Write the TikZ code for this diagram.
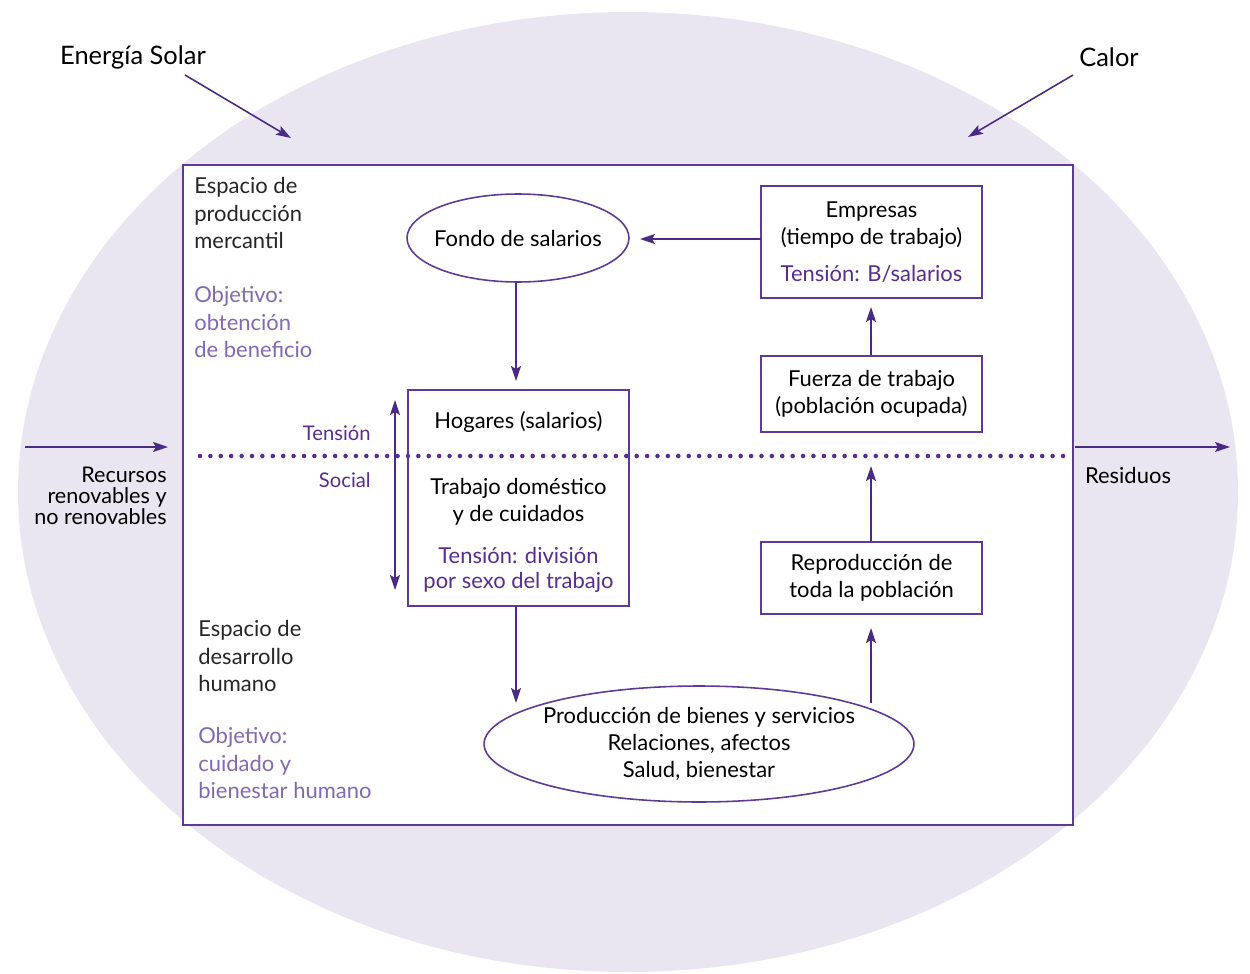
\documentclass[tikz,border=0pt]{standalone}
\usepackage{fontspec}
\setmainfont{Lato}
\usetikzlibrary{positioning,shapes.geometric,arrows.meta}

\definecolor{fondo}{HTML}{E9E6F2}
\definecolor{marco}{HTML}{5E3A94}
\definecolor{flecha}{HTML}{4B2A85}
\definecolor{tensioncol}{HTML}{5B2C8F}
\definecolor{objetivo}{HTML}{8468B4}

\tikzset{
  punta/.tip = {Stealth[length = 0.3cm, width = 0.2cm, inset = 0.06cm]},
  caja/.style = {draw = marco, rectangle, line width = 0.9pt, minimum width = 4.42cm, inner sep = 0pt, align = center},
  ovalo/.style = {draw = marco, ellipse, line width = 0.9pt, inner xsep = -0.15cm, inner ysep = 0pt, align = center},
  flujo/.style = {draw = flecha, line width = 0.9pt, -punta},
  rotulo/.style = {inner sep = 0pt, align = left, text = black!85},
  meta/.style = {inner sep = 0pt, align = left, text = objetivo},
  tenso/.style = {inner sep = 0pt, text = tensioncol, font = \fontsize{11.5pt}{14pt}\selectfont},
  titulo/.style = {inner sep = 0pt, font = \fontsize{14.5pt}{17pt}\selectfont}
}

\begin{document}
\begin{tikzpicture}[x = 0.02cm, y = -0.02cm, font = \fontsize{12.5pt}{15.4pt}\selectfont]
        \useasboundingbox (0,0) rectangle (1250,973) ;
        \fill [fondo] (628,492) ellipse [x radius = 610, y radius = 480] ;
        \fill [white] (183,165) rectangle (1073,825) ;
        \draw [marco, line width = 0.9pt] (183,165) rectangle (1073,825) ;

        % entradas y salidas
        \node [titulo] (solar) at (133,57) {Energía Solar} ;
        \node [titulo] (calor) at (1109,57) {Calor} ;
        \coordinate (solarini) at (185,75) ;
        \coordinate (solarfin) at (291,138) ;
        \coordinate (calorini) at (1073,75) ;
        \coordinate (calorfin) at (968,137) ;
        \coordinate (recini) at (25,447) ;
        \coordinate (recfin) at (168,447) ;
        \coordinate (resini) at (1075,447) ;
        \coordinate (resfin) at (1230,447) ;
        \node [inner sep = 0pt, align = right, anchor = east, font = \fontsize{12.3pt}{12pt}\selectfont] (recursos) at (167,496) {Recursos\\renovables y\\no renovables} ;
        \node [inner sep = 0pt] (residuos) at (1128,475) {Residuos} ;

        % espacio mercantil
        \node [rotulo, anchor = west] (mercantil) at (194,213) {Espacio de\\producción\\mercantil} ;
        \node [meta, anchor = west] (beneficio) at (194,322) {Objetivo:\\obtención\\de beneficio} ;
        \node [ovalo, minimum width = 4.44cm, minimum height = 1.76cm] (salarios) at (518,238) {Fondo de salarios} ;
        \node [caja, minimum height = 2.24cm] (empresas) at (871.5,242) {Empresas\\(tiempo de trabajo)\\[0.2cm]\textcolor{tensioncol}{Tensión: B/salarios}} ;
        \node [caja, minimum height = 1.52cm] (fuerza) at (871.5,394) {Fuerza de trabajo\\(población ocupada)} ;

        % frontera
        \draw [tensioncol, line width = 2.6pt, line cap = round, dash pattern = on 0pt off 0.208cm] (200,456) -- (1063,456) ;
        \node [tenso, anchor = east] (tsup) at (371,433) {Tensión} ;
        \node [tenso, anchor = east] (tinf) at (371,480) {Social} ;
        \coordinate (tarriba) at (395,400) ;
        \coordinate (tabajo) at (395,590) ;

        % espacio humano
        \node [caja, minimum height = 4.32cm] (hogares) at (518.5,498) {} ;
        \node [inner sep = 0pt, align = center] (hogtexto) at (518.5,502) {Hogares (salarios)\\[0.78cm]Trabajo doméstico\\y de cuidados\\[0.3cm]\textcolor{tensioncol}{Tensión: división}\\[-0.05cm]\textcolor{tensioncol}{por sexo del trabajo}} ;
        \node [caja, minimum height = 1.44cm] (reproduccion) at (871.5,578) {Reproducción de\\toda la población} ;
        \node [ovalo, minimum width = 8.6cm, minimum height = 2.32cm] (bienes) at (699,744) {Producción de bienes y servicios\\Relaciones, afectos\\Salud, bienestar} ;
        \node [rotulo, anchor = west] (desarrollo) at (198,656) {Espacio de\\desarrollo\\humano} ;
        \node [meta, anchor = west] (cuidado) at (198,763) {Objetivo:\\cuidado y\\bienestar humano} ;
        \coordinate (hogfin) at (516,703) ;
        \coordinate (repfin) at (871,466) ;
        \coordinate (bienini) at (871,703) ;
        \coordinate (bienfin) at (871,628) ;
        \coordinate (empfin) at (871,307) ;
        \coordinate (empini) at (761,239) ;
        \coordinate (salfin) at (640,239) ;
        \coordinate (hogtop) at (516,381) ;

        % flujos
        \draw [flujo] (solarini) -- (solarfin) ;
        \draw [flujo] (calorini) -- (calorfin) ;
        \draw [flujo] (recini) -- (recfin) ;
        \draw [flujo] (resini) -- (resfin) ;
        \draw [flujo] (empini) -- (salfin) ;
        \draw [flujo] (salarios.south -| hogtop) -- (hogtop) ;
        \draw [flujo] (fuerza.north -| empfin) -- (empfin) ;
        \draw [flujo] (reproduccion.north -| repfin) -- (repfin) ;
        \draw [flujo] (bienini) -- (bienfin) ;
        \draw [flujo] (hogares.south -| hogfin) -- (hogfin) ;
        \draw [flujo, punta-punta] (tarriba) -- (tabajo) ;
    \end{tikzpicture}
\end{document}
